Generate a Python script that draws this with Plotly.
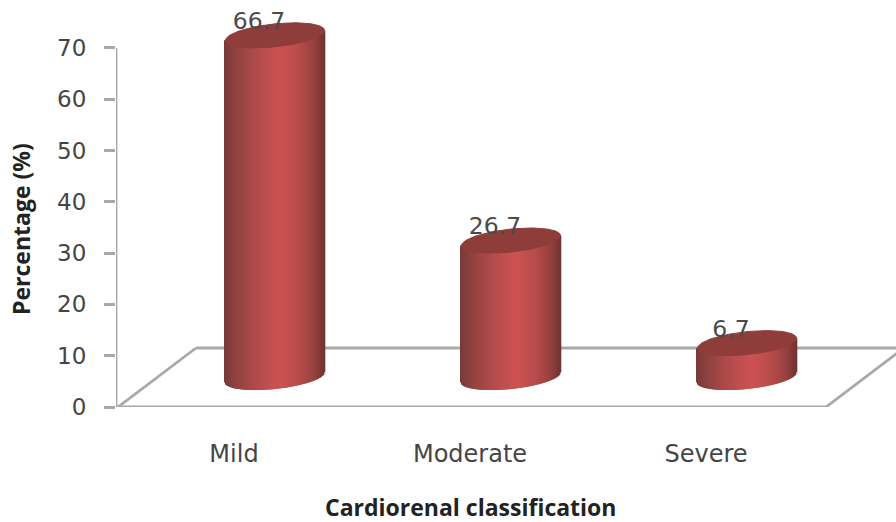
import numpy as np
import plotly.graph_objects as go

categories = ["Mild", "Moderate", "Severe"]
values = [66.7, 26.7, 6.7]
y_ticks = [0, 10, 20, 30, 40, 50, 60, 70]

W, H = 896, 522
L, B = 116, 115          # plot margins in px
PX_X = 236.0             # px per category
PX_Y = 5.13              # px per percentage unit
BASE = 5.75              # projected floor offset of the cylinder base, in axis units
SHIFT = 41 / PX_X        # projected depth shift of the cylinder centre
RX, RY, SHEAR = 49.5, 11.5, 0.1

stops_t = [-1.0, -0.7, -0.3, 0.12, 0.5, 0.8, 1.0]
stops_r = [122, 150, 182, 205, 184, 152, 116]
stops_g = [58, 68, 76, 83, 76, 66, 52]
stops_b = [56, 66, 76, 82, 76, 64, 50]


def slice_color(t):
    return "rgb(%d,%d,%d)" % (
        np.interp(t, stops_t, stops_r),
        np.interp(t, stops_t, stops_g),
        np.interp(t, stops_t, stops_b),
    )


fig = go.Figure()

# Cylinder bodies: one thin bar per pixel column, with the elliptical base.
xs, bases, heights, colors = [], [], [], []
ts = np.linspace(-1, 1, 100)
for i, v in enumerate(values):
    c = i + SHIFT
    for t in ts:
        dx = t * RX
        bot = BASE + (-RY * np.sqrt(1 - t * t) + SHEAR * dx) / PX_Y
        top = BASE + v + (SHEAR * dx) / PX_Y
        xs.append(c + dx / PX_X)
        bases.append(bot)
        heights.append(top - bot)
        colors.append(slice_color(t))
fig.add_trace(go.Bar(
    x=xs, y=heights, base=bases, width=1.6 / PX_X,
    marker=dict(color=colors, line=dict(width=0)),
    hoverinfo="skip", showlegend=False,
))

# Cylinder caps
theta = np.linspace(0, 2 * np.pi, 121)
for i, v in enumerate(values):
    c = i + SHIFT
    dx = RX * np.cos(theta)
    fig.add_trace(go.Scatter(
        x=c + dx / PX_X,
        y=BASE + v + (RY * np.sin(theta) + SHEAR * dx) / PX_Y,
        mode="lines", fill="toself", fillcolor="#8e3d3a",
        line=dict(color="#8e3d3a", width=1),
        hoverinfo="skip", showlegend=False,
    ))

# Data labels
fig.add_trace(go.Scatter(
    x=[i + SHIFT - 16 / PX_X for i in range(len(values))],
    y=[BASE + v + 12.5 / PX_Y for v in values],
    mode="text", text=[str(v) for v in values], textposition="middle center",
    textfont=dict(family="DejaVu Sans", size=23.5, color="#4a4a4a"),
    hoverinfo="skip", showlegend=False,
))

# Floor and axis line, beneath the cylinders
GREY = "#a8a8a8"
depth_x, depth_y = 78 / PX_X, 59 / PX_Y
x0, x1 = -0.5, 2.5
off = 2 / PX_X
floor = [
    ((x0 + off, 0), (x0 + off + depth_x, depth_y)),
    ((x0 + off + depth_x, depth_y), (x1 + depth_x + 0.1, depth_y)),
    ((x0 - 11 / PX_X, 0), (x1 + off, 0)),
    ((x1 + off, 0), (x1 + off + depth_x, depth_y)),
    ((x0, 0), (x0, y_ticks[-1])),
]
for (a, b) in floor:
    fig.add_shape(type="line", xref="x", yref="y", layer="below",
                  x0=a[0], y0=a[1], x1=b[0], y1=b[1],
                  line=dict(color=GREY, width=2.8))

fig.add_annotation(text="<b>Cardiorenal classification</b>", xref="paper", yref="paper",
                   x=(470 - L) / (W - L), y=-(507 - (H - B)) / (H - B),
                   xanchor="center", yanchor="middle", showarrow=False,
                   font=dict(family="Open Sans", size=23, color="#222222"))
fig.add_annotation(text="<b>Percentage (%)</b>", xref="paper", yref="paper",
                   x=-(L - 21) / (W - L), y=1 - 229 / (H - B), textangle=-90,
                   xanchor="center", yanchor="middle", showarrow=False,
                   font=dict(family="Open Sans", size=23, color="#222222"))

fig.update_layout(
    width=W, height=H, autosize=False,
    margin=dict(l=L, r=0, t=0, b=B, pad=0),
    paper_bgcolor="white", plot_bgcolor="white",
    barmode="overlay", showlegend=False,
    xaxis=dict(
        range=[-0.5, (W - L) / PX_X - 0.5],
        tickmode="array", tickvals=list(range(len(categories))), ticktext=categories,
        showgrid=False, zeroline=False, showline=False, ticks="", ticklen=0,
        ticklabelstandoff=30,
        tickfont=dict(family="DejaVu Sans", size=24, color="#454545"),
        automargin=False,
    ),
    yaxis=dict(
        range=[0, (H - B) / PX_Y],
        tickmode="array", tickvals=y_ticks,
        showgrid=False, zeroline=False, showline=False,
        ticks="outside", ticklen=11, tickwidth=2.5, tickcolor=GREY,
        ticklabelstandoff=13,
        tickfont=dict(family="DejaVu Sans", size=23, color="#454545"),
        automargin=False,
    ),
)

fig.write_html("out.html", config=dict(displayModeBar=False),
               post_script="document.body.style.margin='0';")
